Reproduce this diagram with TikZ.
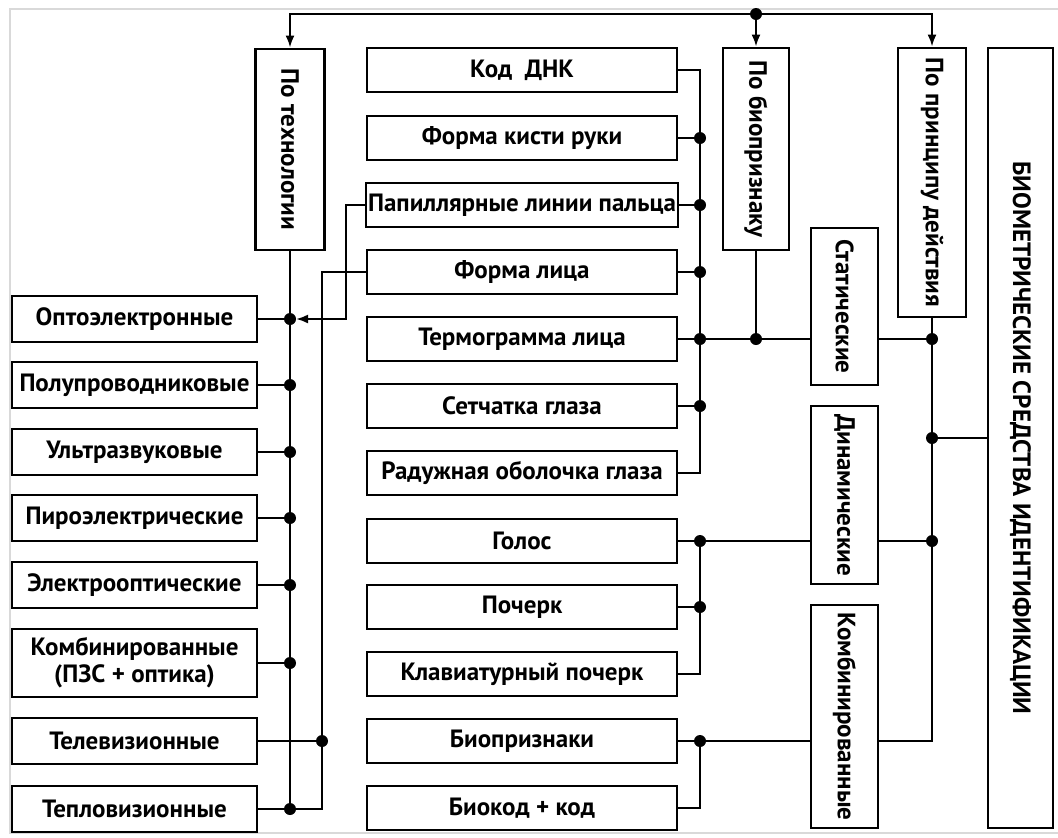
\documentclass[tikz,border=0pt]{standalone}
\usepackage{fontspec}
\setmainfont{PT Sans}
\usepackage{graphicx}
\usepackage{tikz}
\usetikzlibrary{arrows.meta}

\tikzset{
  box/.style={draw, line width=1.4pt, inner sep=1pt, align=center,
    font=\fontsize{12.5}{13.5}\selectfont\bfseries},
  lbox/.style={box, minimum width=122.5pt, minimum height=23pt},
  mbox/.style={box, minimum width=155pt, minimum height=22pt},
  vbox/.style={box, inner sep=0pt},
  dot/.style={circle, fill, inner sep=0pt, minimum size=6pt},
  link/.style={line width=1.1pt},
  feed/.style={link, -{Latex[length=6pt, width=4.5pt]}},
}

\begin{document}
\begin{tikzpicture}[x=0.5pt, y=-0.5pt]
  \useasboundingbox (0,0) rectangle (1058,837);
  % frame of the scan
  \draw[black!15, line width=0.8pt] (1058,9) -- (10,9) -- (10,833) -- (1058,833);

  % left column: technology
  \node[lbox] (opto)   at (134.5,319) {Оптоэлектронные};
  \node[lbox] (semi)   at (134.5,385) {Полупроводниковые};
  \node[lbox] (ultra)  at (134.5,452) {Ультразвуковые};
  \node[lbox] (pyro)   at (134.5,518) {Пироэлектрические};
  \node[lbox] (eloptic) at (134.5,585) {Электрооптические};
  \node[lbox, minimum height=34pt] (combo) at (134.5,663) {Комбинированные\\(ПЗС + оптика)};
  \node[lbox] (tv)     at (134.5,741) {Телевизионные};
  \node[lbox] (thermo) at (134.5,809) {Тепловизионные};

  % middle column: biometric features
  \node[mbox] (dna)        at (522,70)  {Код\enspace ДНК};
  \node[mbox] (hand)       at (522,138) {Форма кисти руки};
  \node[mbox] (finger)     at (522,205) {Папиллярные линии пальца};
  \node[mbox] (face)       at (522,272) {Форма лица};
  \node[mbox] (thermogram) at (522,339) {Термограмма лица};
  \node[mbox] (retina)     at (522,406) {Сетчатка глаза};
  \node[mbox] (iris)       at (522,473) {Радужная оболочка глаза};
  \node[mbox] (voice)      at (522,541) {Голос};
  \node[mbox] (writing)    at (522,607) {Почерк};
  \node[mbox] (keyboard)   at (522,674) {Клавиатурный почерк};
  \node[mbox] (biofeat)    at (522,741) {Биопризнаки};
  \node[mbox] (biocode)    at (522,808) {Биокод + код};

  % vertical boxes
  \node[vbox, minimum width=34.5pt, minimum height=100.5pt] (bytech) at (290,149.5) {\rotatebox{-90}{По технологии}};
  \node[vbox, minimum width=33pt, minimum height=101pt] (byfeature) at (756,149) {\rotatebox{-90}{По биопризнаку}};
  \node[vbox, minimum width=34pt, minimum height=134.5pt] (byprinciple) at (932,182.5) {\rotatebox{-90}{По принципу действия}};
  \node[vbox, minimum width=32.5pt, minimum height=390pt] (main) at (1020.5,438) {\rotatebox{-90}{БИОМЕТРИЧЕСКИЕ СРЕДСТВА ИДЕНТИФИКАЦИИ}};
  \node[vbox, minimum width=33.5pt, minimum height=78.5pt] (static) at (844.5,306.5) {\rotatebox{-90}{Статические}};
  \node[vbox, minimum width=33.5pt, minimum height=89pt] (dynamic) at (844.5,495) {\rotatebox{-90}{Динамические}};
  \node[vbox, minimum width=33.5pt, minimum height=111.5pt] (combined) at (844.5,716.5) {\rotatebox{-90}{Комбинированные}};

  % bus positions
  \coordinate (top) at (756,14);
  \coordinate (tvbus) at (322,0);
  \coordinate (fbus) at (346,0);
  \coordinate (mbus) at (700,0);

  % top distribution
  \node[dot] (topdot) at (top) {};
  \draw[feed] (topdot) -| (bytech.north);
  \draw[feed] (topdot) -- (byfeature.north);
  \draw[feed] (topdot) -| (byprinciple.north);

  % technology bus
  \draw[link] (bytech.south) -- (bytech.south |- thermo);
  \foreach \n in {opto, semi, ultra, pyro, eloptic, combo, thermo}
    \draw[link] (\n.east) -- (\n -| bytech) node[dot] {};
  \draw[link] (face.west) -| (tvbus |- thermo) -- (thermo -| bytech);
  \draw[link] (tv.east) -- (tv -| tvbus) node[dot] {};
  \draw[feed, shorten >=3pt] (finger.west) -| (fbus |- opto) -- (opto -| bytech);

  % static features
  \draw[link] (dna.east) -| (mbus |- iris) -- (iris.east);
  \foreach \n in {hand, finger, face, thermogram, retina}
    \draw[link] (\n.east) -- (\n -| mbus) node[dot] {};
  \draw[link] (thermogram -| mbus) -- (static.west |- thermogram);
  \draw[link] (byfeature.south) -- (byfeature.south |- thermogram) node[dot] {};

  % dynamic features
  \draw[link] (voice.east) -| (mbus |- keyboard) -- (keyboard.east);
  \foreach \n in {voice, writing}
    \draw[link] (\n.east) -- (\n -| mbus) node[dot] {};
  \draw[link] (voice -| mbus) -- (dynamic.west |- voice);

  % combined
  \draw[link] (biofeat.east) -| (mbus |- biocode) -- (biocode.east);
  \draw[link] (biofeat.east) -- (biofeat -| mbus) node[dot] {};
  \draw[link] (biofeat -| mbus) -- (combined.west |- biofeat);

  % principle bus
  \draw[link] (combined.east |- biofeat) -| (byprinciple.south);
  \draw[link] (static.east |- thermogram) -- (byprinciple |- thermogram) node[dot] {};
  \draw[link] (dynamic.east |- voice) -- (byprinciple |- voice) node[dot] {};
  \draw[link] (byprinciple |- main) node[dot] {} -- (main.west);
\end{tikzpicture}
\end{document}
